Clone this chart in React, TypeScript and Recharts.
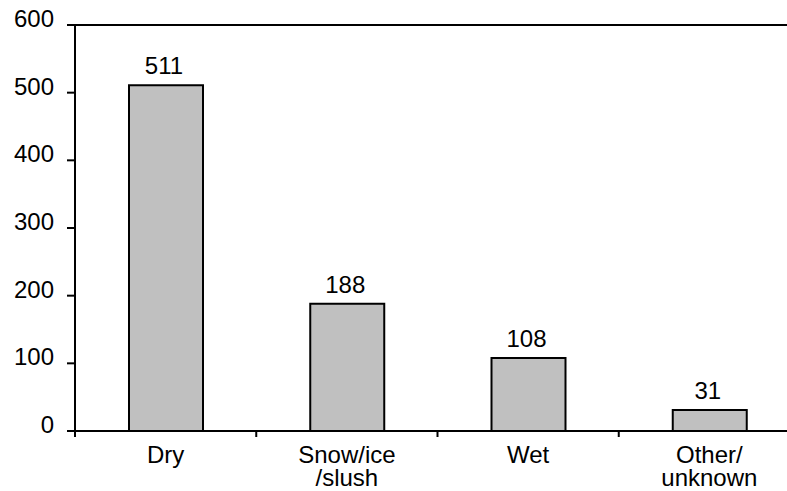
import * as React from "react";
import {
  BarChart,
  Bar,
  XAxis,
  YAxis,
  ReferenceLine,
  LabelList,
} from "recharts";

const categories = ["Dry", "Snow/ice\n/slush", "Wet", "Other/\nunknown"];
const counts = [511, 188, 108, 31];
const yTicks = [0, 100, 200, 300, 400, 500, 600];

const data = categories.map((name, i) => ({ name, count: counts[i] }));

const FONT = "'Liberation Sans', Arial, Helvetica, sans-serif";
const CHART_W = 810;
const CHART_H = 491;
const MARGIN = { top: 25, right: 10, bottom: 10, left: 0 };
const Y_AXIS_W = 75;
const X_AXIS_H = 50;
const BAND = (CHART_W - MARGIN.left - MARGIN.right - Y_AXIS_W) / categories.length;
const AXIS_Y = CHART_H - MARGIN.bottom - X_AXIS_H;

const YTick = (props: any) => {
  const { x, y, payload } = props;
  return (
    <text
      x={x - 11}
      y={y + 2}
      textAnchor="end"
      fontSize={24}
      fontFamily={FONT}
      fill="#000"
    >
      {payload.value}
    </text>
  );
};

const XTick = (props: any) => {
  const { x, payload, index } = props;
  const lines = String(payload.value).split("\n");
  const left = x - BAND / 2;
  return (
    <g>
      <line x1={left} x2={left} y1={AXIS_Y} y2={AXIS_Y + 6} stroke="#000" strokeWidth={2} />
      {index === categories.length - 1 && (
        <line
          x1={x + BAND / 2}
          x2={x + BAND / 2}
          y1={AXIS_Y}
          y2={AXIS_Y + 6}
          stroke="#000"
          strokeWidth={2}
        />
      )}
      <text textAnchor="middle" fontSize={24} fontFamily={FONT} fill="#000">
        {lines.map((l, i) => (
          <tspan key={i} x={x} y={AXIS_Y + 32 + i * 23}>
            {l}
          </tspan>
        ))}
      </text>
    </g>
  );
};

const ValueLabel = (props: any) => {
  const { x, y, width, value } = props;
  return (
    <text
      x={x + width / 2 - 2}
      y={y - 11}
      textAnchor="middle"
      fontSize={24}
      fontFamily={FONT}
      fill="#000"
    >
      {value}
    </text>
  );
};

export default function App() {
  return (
    <div
      style={{
        position: "absolute",
        left: 0,
        top: 0,
        width: 787,
        height: 491,
        overflow: "hidden",
        background: "#fff",
      }}
    >
      <BarChart width={CHART_W} height={CHART_H} data={data} margin={MARGIN}>
        <ReferenceLine y={600} stroke="#000" strokeWidth={2} />
        <XAxis
          dataKey="name"
          height={X_AXIS_H}
          axisLine={{ stroke: "#000", strokeWidth: 2 }}
          tickLine={false}
          tick={<XTick />}
          interval={0}
        />
        <YAxis
          width={Y_AXIS_W}
          domain={[0, 600]}
          ticks={yTicks}
          interval={0}
          axisLine={{ stroke: "#000", strokeWidth: 2 }}
          tickLine={{ stroke: "#000", strokeWidth: 2 }}
          tickSize={8}
          tick={<YTick />}
        />
        <Bar
          dataKey="count"
          fill="#c0c0c0"
          stroke="#000"
          strokeWidth={2}
          barSize={74}
          isAnimationActive={false}
        >
          <LabelList dataKey="count" content={<ValueLabel />} />
        </Bar>
      </BarChart>
    </div>
  );
}
